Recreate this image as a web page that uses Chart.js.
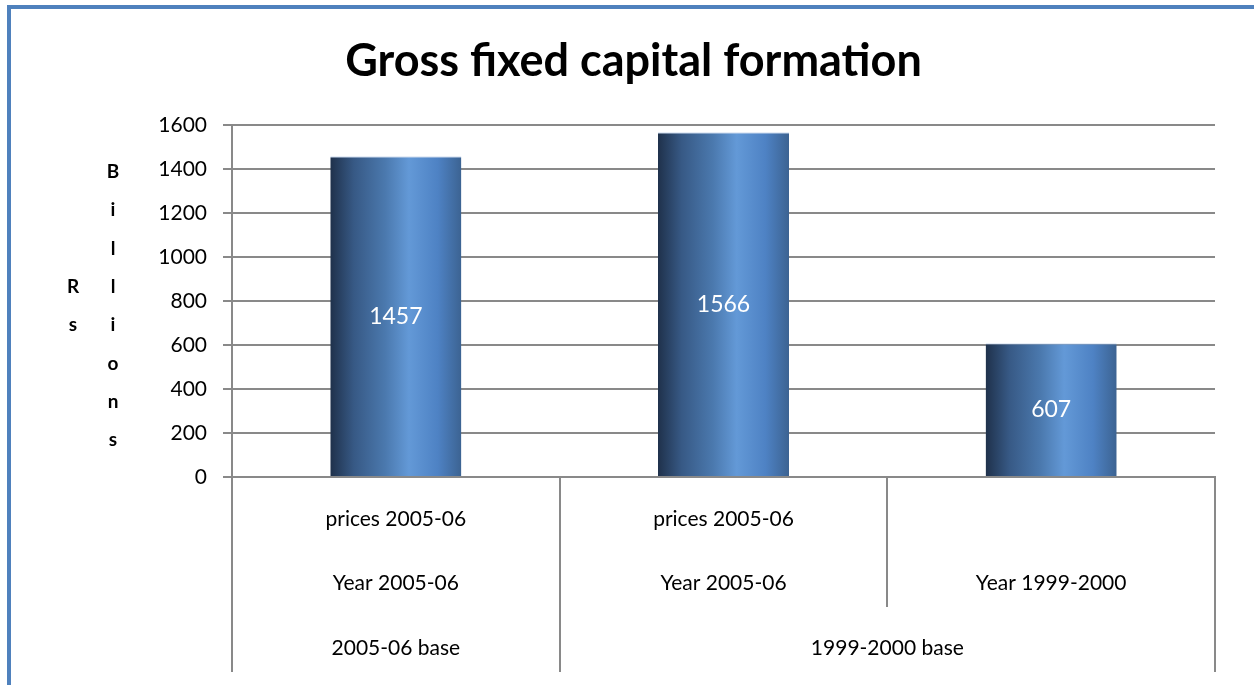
<!DOCTYPE html>
<html>
<head>
<meta charset="utf-8">
<script src="https://cdn.jsdelivr.net/npm/chart.js@4.4.1/dist/chart.umd.min.js"></script>
<style>
  html, body { margin: 0; padding: 0; background: #fff; }
  #wrap { width: 1254px; height: 685px; }
</style>
</head>
<body>
<div id="wrap"><canvas id="myChart" width="1254" height="685"></canvas></div>
<script>
const titleText = 'Gross fixed capital formation';
const priceLabels = ['prices 2005-06', 'prices 2005-06', ''];
const yearLabels = ['Year 2005-06', 'Year 2005-06', 'Year 1999-2000'];
const baseGroups = ['2005-06 base', '1999-2000 base'];
const baseGroupSpan = [[0, 0], [1, 2]];
const gfcfValues = [1457, 1566, 607];
const yTicks = [0, 200, 400, 600, 800, 1000, 1200, 1400, 1600];
const unitLetters = ['R', 's'];
const billionLetters = ['B', 'i', 'l', 'l', 'i', 'o', 'n', 's'];

const gridGrey = '#898989';
const fontFam = 'Lato, "Open Sans", sans-serif';

// frame, vertical axis title, separators and the bottom group row
const extras = {
    id: 'extras',
    beforeDraw(chart) {
        const c = chart.ctx;
        c.save();
        c.fillStyle = '#fff';
        c.fillRect(0, 0, chart.width, chart.height);
        c.strokeStyle = '#4F81BD';
        c.lineWidth = 4;
        c.strokeRect(9, 7, chart.width + 20, chart.height + 20);
        c.restore();
    },
    afterDraw(chart) {
        const c = chart.ctx;
        const xs = chart.scales.x;
        const n = xs.ticks.length;
        const cw = xs.width / n;
        const top = chart.chartArea.bottom;
        c.save();

        // letters of the y title
        c.fillStyle = '#000';
        c.font = 'bold 19px ' + fontFam;
        c.textAlign = 'center';
        c.textBaseline = 'middle';
        billionLetters.forEach((ch, i) => c.fillText(ch, 113, 172 + i * 38.3));
        unitLetters.forEach((ch, i) => c.fillText(ch, 73, 172 + (i + 3) * 38.3));

        // separators between categories
        const groupEdges = new Set();
        baseGroupSpan.forEach(s => { groupEdges.add(s[0]); groupEdges.add(s[1] + 1); });
        c.strokeStyle = gridGrey;
        c.lineWidth = 2;
        for (let i = 0; i <= n; i++) {
            const x = Math.round(xs.left + i * cw);
            const bottom = groupEdges.has(i) ? 672 : 607;
            c.beginPath();
            c.moveTo(x, top);
            c.lineTo(x, bottom);
            c.stroke();
        }

        // group labels
        c.font = '21px ' + fontFam;
        baseGroups.forEach((g, i) => {
            const s = baseGroupSpan[i];
            const x = xs.left + (s[0] + s[1] + 1) * cw / 2;
            c.fillText(g, x, 648);
        });
        c.restore();
    },
    afterDatasetsDraw(chart) {
        const c = chart.ctx;
        const meta = chart.getDatasetMeta(0);
        c.save();
        c.fillStyle = '#fff';
        c.font = '23px ' + fontFam;
        c.textAlign = 'center';
        c.textBaseline = 'middle';
        meta.data.forEach((bar, i) => {
            c.fillText(String(gfcfValues[i]), bar.x, (bar.y + bar.base) / 2);
        });
        c.restore();
    }
};

function barGradient(context) {
    const chart = context.chart;
    if (!chart.chartArea) {
        return '#4F81BD';
    }
    const xs = chart.scales.x;
    const c = xs.getPixelForValue(context.dataIndex);
    const half = xs.width / chart.data.labels.length * 0.4 / 2;
    const g = chart.ctx.createLinearGradient(c - half, 0, c + half, 0);
    g.addColorStop(0, '#1f314b');
    g.addColorStop(0.18, '#375985');
    g.addColorStop(0.42, '#4b79ae');
    g.addColorStop(0.6, '#6399d7');
    g.addColorStop(0.82, '#4e82c4');
    g.addColorStop(1, '#3c6392');
    return g;
}

const ctx = document.getElementById('myChart').getContext('2d');
const myChart = new Chart(ctx, {
    type: 'bar',
    data: {
        labels: priceLabels.map((p, i) => [p, yearLabels[i]]),
        datasets: [{
            label: 'Gross fixed capital formation',
            data: gfcfValues,
            backgroundColor: barGradient,
            borderColor: '#9bb8de',
            borderWidth: { top: 1, left: 0, right: 0, bottom: 0 },
            borderSkipped: 'bottom',
            barPercentage: 0.4,
            categoryPercentage: 1.0
        }]
    },
    options: {
        responsive: false,
        animation: false,
        devicePixelRatio: 1,
        layout: { padding: { left: 52, right: 39, top: 0, bottom: 0 } },
        plugins: {
            legend: { display: false },
            tooltip: { enabled: false },
            title: {
                display: true,
                text: titleText,
                color: '#000',
                font: { family: fontFam, size: 45, weight: 'bold', lineHeight: 1.2 },
                padding: { top: 34, bottom: 37 }
            }
        },
        scales: {
            x: {
                grid: { drawOnChartArea: false, drawTicks: false },
                border: { color: gridGrey, width: 2 },
                ticks: {
                    color: '#000',
                    font: { family: fontFam, size: 21, lineHeight: 64 / 21 },
                    padding: 10,
                    maxRotation: 0,
                    autoSkip: false
                },
                afterFit: s => { s.height = 208; }
            },
            y: {
                min: 0,
                max: 1600,
                afterBuildTicks: s => { s.ticks = yTicks.map(v => ({ value: v })); },
                grid: { color: gridGrey, lineWidth: 2, tickLength: 9 },
                border: { color: gridGrey, width: 2 },
                ticks: {
                    color: '#000',
                    font: { family: fontFam, size: 21 },
                    padding: 16,
                    callback: v => String(v)
                },
                afterFit: s => { s.width = 180; }
            }
        }
    },
    plugins: [extras]
});
</script>
</body>
</html>
